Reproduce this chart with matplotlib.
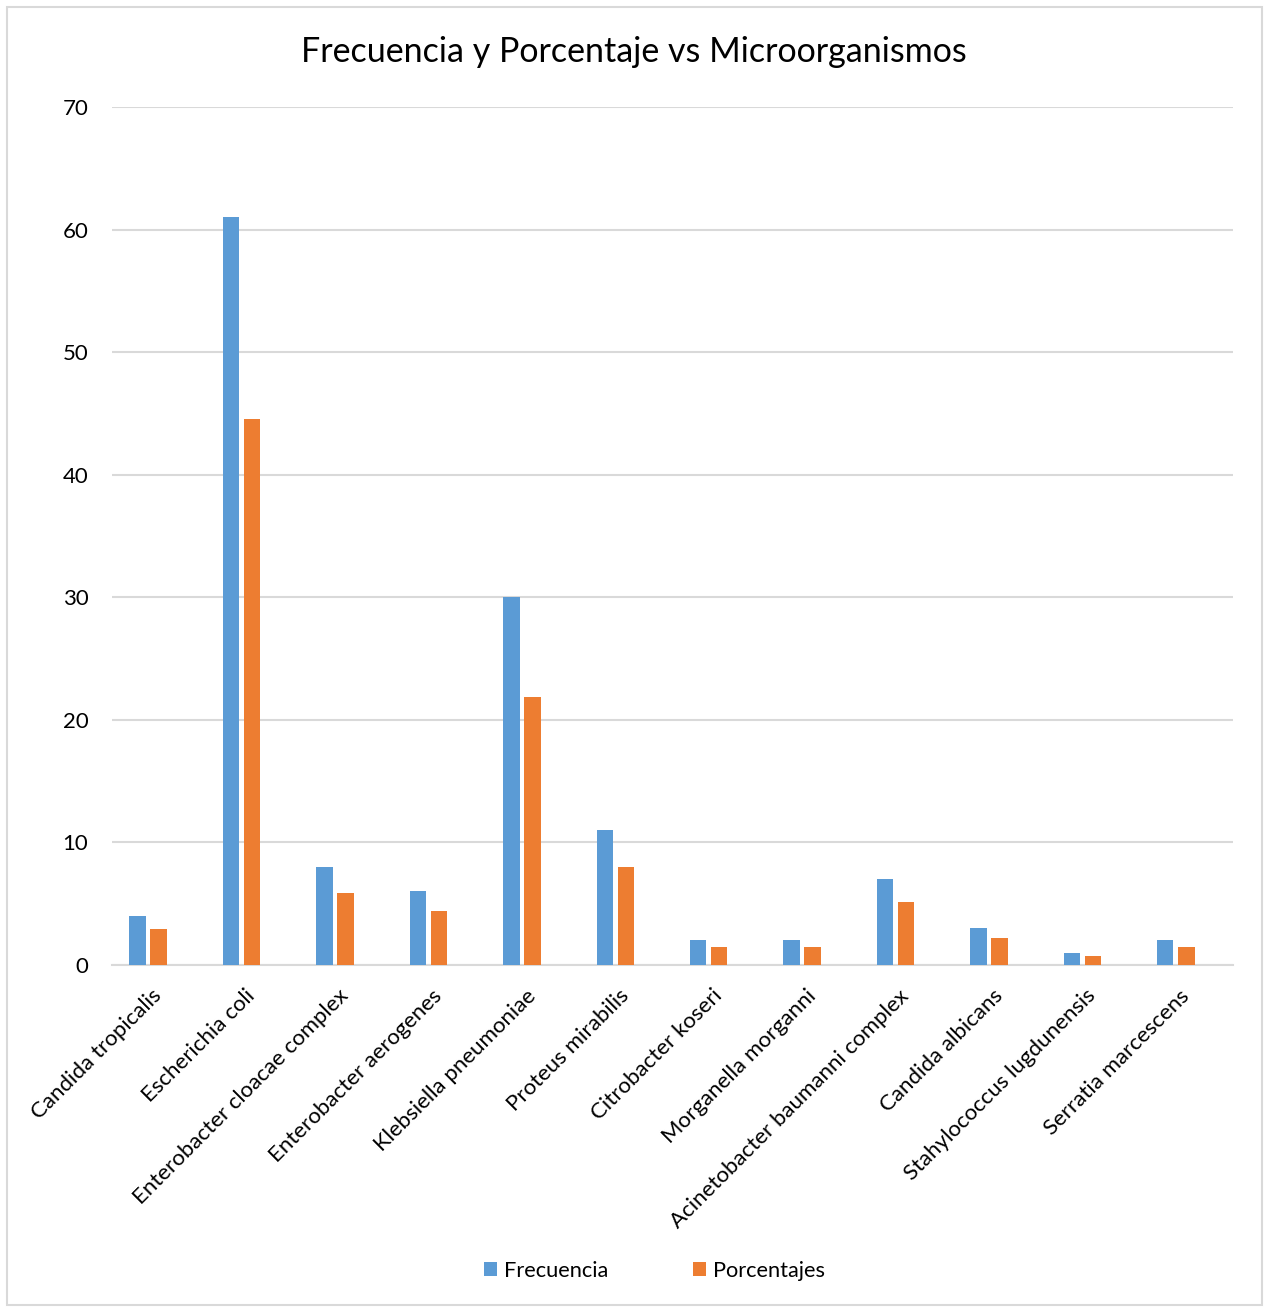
import numpy as np
import matplotlib
matplotlib.use("Agg")
import matplotlib.pyplot as plt

plt.rcParams['font.family'] = ['Lato', 'DejaVu Sans']

# data
organismos = ["Candida tropicalis", "Escherichia coli", "Enterobacter cloacae complex",
              "Enterobacter aerogenes", "Klebsiella pneumoniae", "Proteus mirabilis",
              "Citrobacter koseri", "Morganella morganni", "Acinetobacter baumanni complex",
              "Candida albicans", "Stahylococcus lugdunensis", "Serratia marcescens"]
frecuencia = [4, 61, 8, 6, 30, 11, 2, 2, 7, 3, 1, 2]
porcentajes = [2.92, 44.53, 5.84, 4.38, 21.90, 8.03, 1.46, 1.46, 5.11, 2.19, 0.73, 1.46]

azul = "#5B9BD5"
naranja = "#ED7D31"
gris = "#D9D9D9"

fig = plt.figure(figsize=(12.65, 13.08), dpi=100)
ax = fig.add_axes([112 / 1265, 1 - 965 / 1308, (1233 - 112) / 1265, (965 - 107) / 1308])

x = np.arange(len(organismos))
ancho = 0.176
ax.bar(x - 0.225, frecuencia, width=ancho, color=azul, label="Frecuencia", zorder=3)
ax.bar(x, porcentajes, width=ancho, color=naranja, label="Porcentajes", zorder=3)

ax.set_xlim(-0.5, len(organismos) - 0.5)
ax.set_ylim(0, 70)
ax.set_yticks(range(0, 71, 10))
ax.yaxis.grid(True, color=gris, linewidth=1.5, zorder=0)
ax.set_axisbelow(True)
for s in ["left", "right", "top"]:
    ax.spines[s].set_visible(False)
ax.spines["bottom"].set_color(gris)
ax.spines["bottom"].set_linewidth(1.5)
ax.tick_params(axis="y", length=0, pad=17, labelsize=16)
ax.tick_params(axis="x", length=0, pad=20)
ax.set_xticks(x)
ax.set_xticklabels(organismos, rotation=45, ha="right", va="center",
                   rotation_mode="anchor", fontsize=16)

fig.text(0.501, 1 - 52 / 1308, "Frecuencia y Porcentaje vs Microorganismos",
         ha="center", va="center", fontsize=24.5)

fig.legend(loc="center", bbox_to_anchor=(0.5174, 1 - 1271 / 1308), ncol=2,
           frameon=False, fontsize=15.7, handlelength=0.6, handleheight=0.6,
           handletextpad=0.32, columnspacing=3.9)

# chart border
fig.add_artist(plt.Rectangle((7 / 1265, 3 / 1308), 1255 / 1265, 1298 / 1308,
                             transform=fig.transFigure, fill=False,
                             edgecolor=gris, linewidth=1.5))

fig.savefig("out.png", dpi=100)
